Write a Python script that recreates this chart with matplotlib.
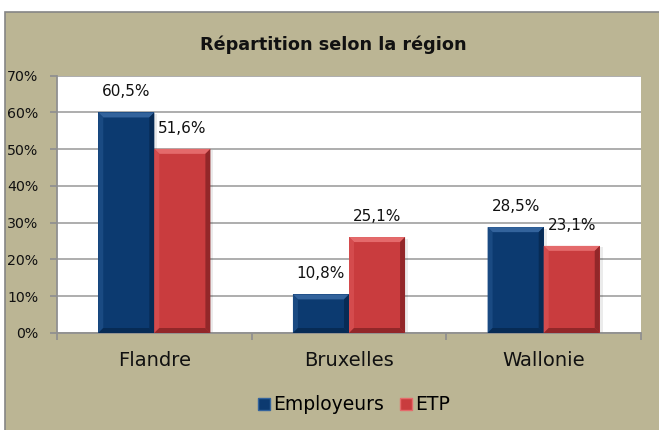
import numpy as np
import matplotlib
matplotlib.use("Agg")
import matplotlib.pyplot as plt
from matplotlib.patches import Polygon, Rectangle, Patch

regions = ["Flandre", "Bruxelles", "Wallonie"]
employeurs = [60.0, 10.5, 28.8]
etp = [50.1, 26.1, 23.7]
employeurs_labels = ["60,5%", "10,8%", "28,5%"]
etp_labels = ["51,6%", "25,1%", "23,1%"]
yticks = [0, 10, 20, 30, 40, 50, 60, 70]

tan = "#BBB594"
blue = {"main": "#0C3A70", "light": "#33639C", "mid": "#1A4A82", "dark": "#072B55"}
red = {"main": "#C93C3E", "light": "#E46A6B", "mid": "#D44B4D", "dark": "#922729"}

fig = plt.figure(figsize=(6.59, 4.30), dpi=100)
fig.patch.set_facecolor("white")
fig.patches.append(Rectangle((5 / 659, -0.05), 1.0, (430 - 12) / 430 + 0.05,
                             transform=fig.transFigure, facecolor=tan,
                             edgecolor="#858585", linewidth=1.2, zorder=-5))

ax = fig.add_axes([57 / 659, (430 - 333) / 430, 584 / 659, 257.3 / 430])
ax.set_zorder(1)
ax.set_facecolor("white")
ax.set_xlim(-0.5, 2.5)
ax.set_ylim(0, 70)

ax_w_px = 584
ax_h_px = 257.3
bx = 5 / (ax_w_px / 3)
by = 5 / (ax_h_px / 70)
sx = 3 / (ax_w_px / 3)

w = 0.288
x = np.arange(len(regions))


def bevel_bar(x0, h, c):
    x1 = x0 + w
    # soft shadow
    ax.add_patch(Rectangle((x0 + sx, 0), w, h - by * 0.3,
                           facecolor="#000000", alpha=0.08, linewidth=0, zorder=2))
    ax.bar(x0, h, width=w, align="edge", color=c["main"], linewidth=0, zorder=3)
    ax.add_patch(Polygon([(x0, h), (x1, h), (x1 - bx, h - by), (x0 + bx, h - by)],
                         closed=True, facecolor=c["light"], linewidth=0, zorder=4))
    ax.add_patch(Polygon([(x0, 0), (x0, h), (x0 + bx, h - by), (x0 + bx, by)],
                         closed=True, facecolor=c["mid"], linewidth=0, zorder=4))
    ax.add_patch(Polygon([(x1, 0), (x1, h), (x1 - bx, h - by), (x1 - bx, by)],
                         closed=True, facecolor=c["dark"], linewidth=0, zorder=4))
    ax.add_patch(Polygon([(x0, 0), (x1, 0), (x1 - bx, by), (x0 + bx, by)],
                         closed=True, facecolor=c["dark"], linewidth=0, zorder=4))


for i in range(len(regions)):
    bevel_bar(x[i] - w, employeurs[i], blue)
    bevel_bar(x[i], etp[i], red)
    ax.annotate(employeurs_labels[i], (x[i] - w / 2, employeurs[i]),
                xytext=(0, 15), textcoords="offset points",
                ha="center", va="center", fontsize=11, color="#111111", zorder=6)
    ax.annotate(etp_labels[i], (x[i] + w / 2, etp[i]),
                xytext=(0, 15), textcoords="offset points",
                ha="center", va="center", fontsize=11, color="#111111", zorder=6)

ax.set_yticks(yticks)
ax.set_yticklabels([f"{t}%" for t in yticks], fontsize=10.2, color="#111111")
ax.yaxis.grid(True, color="#A0A0A0", linewidth=1.2, zorder=1)
ax.set_axisbelow(True)

ax.set_xticks(x)
ax.set_xticklabels(regions, fontsize=14, color="#111111")
ax.set_xticks([-0.5, 0.5, 1.5, 2.5], minor=True)
ax.tick_params(axis="x", which="major", length=0, pad=13)
ax.tick_params(axis="x", which="minor", length=5, width=1.3, color="#909090")
ax.tick_params(axis="y", length=5, width=1.3, color="#909090", pad=8.5)

for side in ["top", "right"]:
    ax.spines[side].set_visible(False)
for side in ["left", "bottom"]:
    ax.spines[side].set_color("#909090")
    ax.spines[side].set_linewidth(1.3)

fig.text(333 / 659, 1 - 45 / 430, "Répartition selon la région", ha="center",
         va="center", fontsize=12.7, fontweight="bold", color="#111111")

handles = [Patch(facecolor=blue["main"], edgecolor=blue["light"], label="Employeurs"),
           Patch(facecolor=red["main"], edgecolor=red["light"], label="ETP")]
fig.legend(handles=handles, loc="center", bbox_to_anchor=(354 / 659, 1 - 405 / 430),
           ncol=2, frameon=False, fontsize=13.5, handlelength=0.65, handleheight=0.65,
           handletextpad=0.15, columnspacing=0.85)

fig.savefig("out.png", dpi=100)
